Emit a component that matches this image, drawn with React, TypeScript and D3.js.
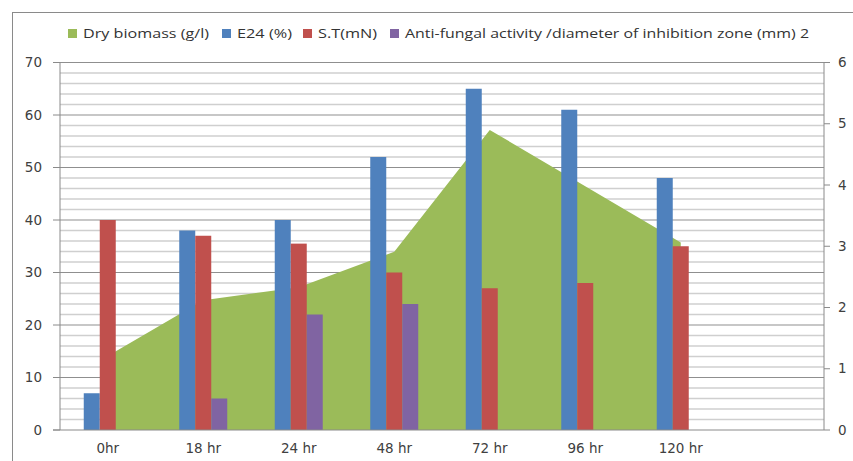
import React from 'react';
import * as d3 from 'd3';

// categories (the last slot is empty in the original chart)
const categories = ['0hr', '18 hr', '24 hr', '48 hr', '72 hr', '96 hr', '120 hr', ''];
const dryBiomass = [1.21, 2.12, 2.33, 2.91, 4.9, 3.98, 3.06]; // right axis
const e24 = [7, 38, 40, 52, 65, 61, 48];
const surfaceTension = [40, 37, 35.5, 30, 27, 28, 35];
const antiFungal = [0, 6, 22, 24, 0, 0, 0];
const leftTicks = [0, 10, 20, 30, 40, 50, 60, 70];
const rightTicks = [0, 1, 2, 3, 4, 5, 6];

const legendItems = [
    { label: 'Dry biomass (g/l)', color: '#9BBB59', x: 68, w: 126 },
    { label: 'E24 (%)', color: '#4F81BD', x: 222, w: 55 },
    { label: 'S.T(mN)', color: '#C0504D', x: 303, w: 59 },
    { label: 'Anti-fungal activity /diameter of inhibition zone (mm) 2', color: '#8064A2', x: 390, w: 404 },
];

export default function App() {
    const width = 853;
    const height = 461;
    const margin = { top: 62.5, right: 29, bottom: 31, left: 60 };
    const plotBottom = height - margin.bottom;
    const plotRight = width - margin.right;

    const x = d3.scaleBand().domain(categories).range([margin.left, plotRight]).padding(0);
    const bw = x.bandwidth();
    const barW = bw / 5.97;
    const series = [
        { key: 'e24', values: e24, color: '#4F81BD' },
        { key: 'st', values: surfaceTension, color: '#C0504D' },
        { key: 'af', values: antiFungal, color: '#8064A2' },
    ];
    const inner = d3.scaleBand()
        .domain(series.map(s => s.key))
        .range([(bw - 3 * barW) / 2, (bw + 3 * barW) / 2])
        .padding(0);

    const yLeft = d3.scaleLinear().domain([0, 70]).range([plotBottom, margin.top]);
    const yRight = d3.scaleLinear().domain([0, 6]).range([plotBottom, margin.top]);

    const area = d3.area<number>()
        .x((d, i) => (x(categories[i]) as number) + bw / 2)
        .y0(plotBottom)
        .y1(d => yRight(d));

    const minorTicks = d3.range(0, 71, 2).filter(t => t % 10 !== 0);
    const axisFont = '"DejaVu Sans", Verdana, sans-serif';

    return (
        <div style={{ position: 'absolute', left: 0, top: 0 }}>
            <svg width={width} height={height} style={{ display: 'block', background: '#fff' }}>
                {/* chart frame */}
                <rect x={12.5} y={12.5} width={width} height={height} fill="#fff" stroke="#8a8a8a" strokeWidth={1} />

                {/* legend */}
                {legendItems.map(item => (
                    <g key={item.label}>
                        <rect x={item.x} y={29} width={9} height={9} fill={item.color} />
                        <text
                            x={item.x + 15}
                            y={38}
                            fontSize={13}
                            fontFamily='"Open Sans", "Noto Sans", sans-serif'
                            fill="#333"
                            textLength={item.w}
                            lengthAdjust="spacingAndGlyphs"
                        >
                            {item.label}
                        </text>
                    </g>
                ))}

                {/* gridlines */}
                {minorTicks.map(t => (
                    <line key={'m' + t} x1={margin.left} x2={plotRight} y1={yLeft(t)} y2={yLeft(t)} stroke="#cfcfcf" strokeWidth={1.5} />
                ))}
                {leftTicks.filter(t => t > 0).map(t => (
                    <line key={'g' + t} x1={margin.left} x2={plotRight} y1={yLeft(t)} y2={yLeft(t)} stroke="#8f8f8f" strokeWidth={1} />
                ))}

                {/* dry biomass area */}
                <path d={area(dryBiomass) || ''} fill="#9BBB59" />

                {/* bars */}
                {series.map(s => s.values.map((v, i) => v > 0 ? (
                    <rect
                        key={s.key + i}
                        x={(x(categories[i]) as number) + (inner(s.key) as number)}
                        y={yLeft(v)}
                        width={inner.bandwidth()}
                        height={plotBottom - yLeft(v)}
                        fill={s.color}
                    />
                ) : null))}

                {/* axes */}
                <line x1={margin.left} x2={margin.left} y1={margin.top} y2={plotBottom} stroke="#8a8a8a" />
                <line x1={plotRight} x2={plotRight} y1={margin.top} y2={plotBottom} stroke="#8a8a8a" />
                <line x1={margin.left - 7} x2={plotRight} y1={plotBottom} y2={plotBottom} stroke="#8a8a8a" />

                {leftTicks.map(t => (
                    <g key={'l' + t}>
                        <line x1={margin.left - 7} x2={margin.left} y1={yLeft(t)} y2={yLeft(t)} stroke="#8a8a8a" />
                        <text x={42} y={yLeft(t)} dy="0.35em" textAnchor="end" fontSize={13.5} fontFamily={axisFont} fill="#404040">
                            {t}
                        </text>
                    </g>
                ))}
                {rightTicks.map(t => (
                    <g key={'r' + t}>
                        <line x1={plotRight} x2={plotRight + 6} y1={yRight(t)} y2={yRight(t)} stroke="#8a8a8a" />
                        <text x={838} y={yRight(t)} dy="0.35em" textAnchor="start" fontSize={13.5} fontFamily={axisFont} fill="#404040">
                            {t}
                        </text>
                    </g>
                ))}
                {categories.map(c => c ? (
                    <text key={c} x={(x(c) as number) + bw / 2} y={453} textAnchor="middle" fontSize={13.5} fontFamily={axisFont} fill="#404040">
                        {c}
                    </text>
                ) : null)}
            </svg>
        </div>
    );
}
